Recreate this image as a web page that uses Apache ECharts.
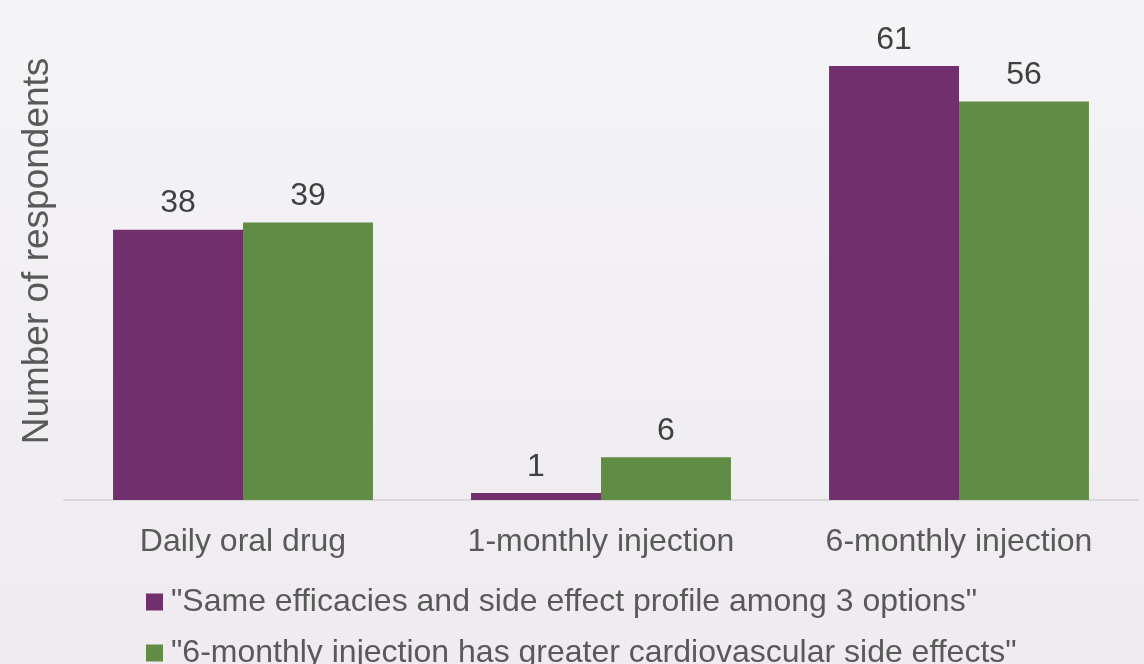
<!DOCTYPE html>
<html><head><meta charset="utf-8">
<script src="https://cdn.jsdelivr.net/npm/echarts@6/dist/echarts.min.js"></script>
<style>html,body{margin:0;padding:0;}#c{width:1144px;height:664px;}</style>
</head><body><div id="c"></div>
<script>
const categories = ["Daily oral drug", "1-monthly injection", "6-monthly injection"];
const seriesNames = ["\"Same efficacies and side effect profile among 3 options\"", "\"6-monthly injection has greater cardiovascular side effects\""];
const sameProfile = [38, 1, 61];
const cardioSide = [39, 6, 56];
const yAxisName = "Number of respondents";

const chart = echarts.init(document.getElementById('c'), null, {renderer: 'canvas'});
const font = 'Liberation Sans, Arial, sans-serif';
const lbl = {show: true, position: 'top', distance: 10, color: '#404040', fontSize: 32, fontFamily: font};
chart.setOption({
  backgroundColor: new echarts.graphic.LinearGradient(0, 0, 0, 1, [{offset: 0, color: '#F5F4F7'}, {offset: 1, color: '#EFEBF0'}]),
  animation: false,
  grid: {left: 64, right: 6, top: 2, bottom: 164},
  legend: {
    orient: 'vertical', left: 141, top: 581, height: 200, itemGap: 19, itemWidth: 17, itemHeight: 17,
    icon: 'rect',
    textStyle: {color: '#595959', fontSize: 32, fontFamily: font, padding: [0, 0, 0, 3]},
    data: seriesNames
  },
  xAxis: {
    type: 'category', data: categories,
    axisLine: {lineStyle: {color: '#D9D9D9', width: 2}},
    axisTick: {show: false},
    axisLabel: {color: '#595959', fontSize: 32, fontFamily: font, margin: 26}
  },
  yAxis: {
    type: 'value', min: 0, max: 70,
    name: yAxisName, nameLocation: 'middle', nameGap: 8, nameRotate: 90,
    nameTextStyle: {color: '#595959', fontSize: 37, fontFamily: font},
    axisLine: {show: false}, axisTick: {show: false}, axisLabel: {show: false}, splitLine: {show: false}
  },
  series: [
    {name: seriesNames[0], type: 'bar', data: sameProfile, barGap: '0%', barCategoryGap: '27.4%',
     itemStyle: {color: '#722F6E'}, label: lbl},
    {name: seriesNames[1], type: 'bar', data: cardioSide,
     itemStyle: {color: '#618C45'}, label: lbl}
  ]
});
</script></body></html>
